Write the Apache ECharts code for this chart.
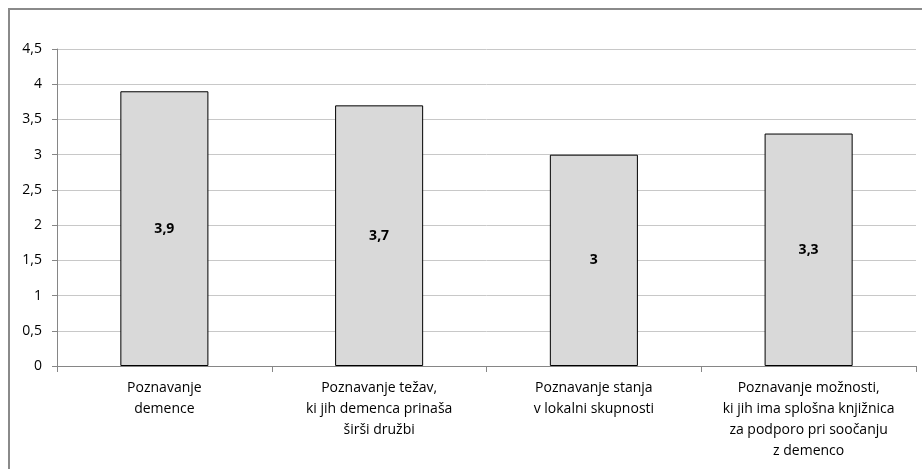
<!DOCTYPE html>
<html>
<head>
<meta charset="utf-8">
<script src="https://cdn.jsdelivr.net/npm/echarts@6/dist/echarts.min.js"></script>
<style>
  html, body { margin: 0; padding: 0; background: #fff; }
  .frame {
    position: absolute;
    left: 8px; top: 8px;
    width: 930px; height: 480px;
    border: 2px solid #8a8a8a;
    box-sizing: border-box;
  }
  #chart { position: absolute; left: 0; top: 0; width: 922px; height: 469px; }
</style>
</head>
<body>
<div class="frame"></div>
<div id="chart"></div>
<script>
  // podatki
  const categories = [
    "Poznavanje\ndemence",
    "Poznavanje težav,\nki jih demenca prinaša\nširši družbi",
    "Poznavanje stanja\nv lokalni skupnosti",
    "Poznavanje možnosti,\nki jih ima splošna knjižnica\nza podporo pri soočanju\nz demenco"
  ];
  const values = [3.9, 3.7, 3, 3.3];
  const yTicks = [0, 0.5, 1, 1.5, 2, 2.5, 3, 3.5, 4, 4.5];

  const fmt = v => String(v).replace(".", ",");
  const font = "'Open Sans', 'Noto Sans', sans-serif";

  const chart = echarts.init(document.getElementById("chart"));
  chart.setOption({
    animation: false,
    grid: { left: 57, right: 6, top: 49, bottom: 103, containLabel: false },
    xAxis: {
      type: "category",
      data: categories,
      axisLine: { lineStyle: { color: "#868686", width: 1 } },
      axisTick: { show: true, length: 6, alignWithLabel: false, lineStyle: { color: "#868686" } },
      axisLabel: {
        interval: 0,
        color: "#000",
        fontFamily: font,
        fontSize: 14,
        lineHeight: 21,
        margin: 12
      }
    },
    yAxis: {
      type: "value",
      min: yTicks[0],
      max: yTicks[yTicks.length - 1],
      interval: 0.5,
      axisLine: { show: true, lineStyle: { color: "#868686" } },
      axisTick: { show: true, length: 5, lineStyle: { color: "#868686" } },
      splitLine: { lineStyle: { color: "#c8c8c8" } },
      axisLabel: {
        color: "#000",
        fontFamily: font,
        fontSize: 14,
        margin: 15,
        formatter: fmt
      }
    },
    series: [{
      type: "bar",
      data: values,
      barCategoryGap: "59%",
      itemStyle: { color: "#d9d9d9", borderColor: "#000", borderWidth: 1 },
      label: {
        show: true,
        position: "inside",
        color: "#000",
        fontFamily: font,
        fontSize: 14,
        fontWeight: "bold",
        formatter: p => fmt(p.value)
      }
    }]
  });
</script>
</body>
</html>
